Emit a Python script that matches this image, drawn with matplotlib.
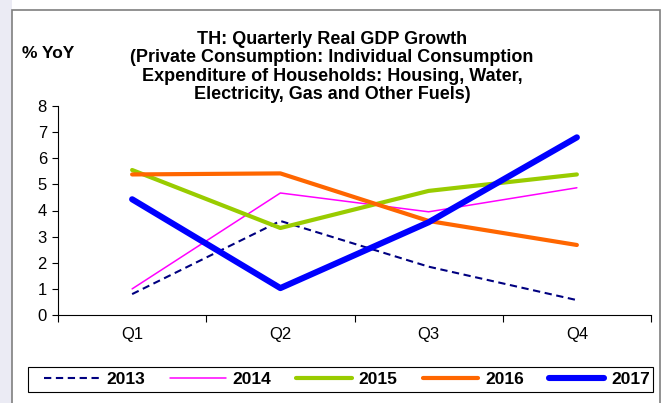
import matplotlib.pyplot as plt
from matplotlib.patches import Rectangle
from matplotlib.lines import Line2D

plt.rcParams['font.family'] = ['Liberation Sans', 'DejaVu Sans']

quarters = ["Q1", "Q2", "Q3", "Q4"]
years = ["2013", "2014", "2015", "2016", "2017"]
growth_2013 = [0.80, 3.60, 1.85, 0.57]
growth_2014 = [1.00, 4.67, 3.95, 4.87]
growth_2015 = [5.55, 3.33, 4.75, 5.38]
growth_2016 = [5.38, 5.42, 3.60, 2.68]
growth_2017 = [4.43, 1.03, 3.55, 6.80]

series = [growth_2013, growth_2014, growth_2015, growth_2016, growth_2017]
colors = ["#000080", "#ff00ff", "#99cc00", "#ff6600", "#0000ff"]
widths = [1.5, 1.1, 3.0, 3.0, 4.4]
styles = [(0, (3.5, 2.2)), "-", "-", "-", "-"]

W, H = 668, 403
fig = plt.figure(figsize=(W / 100, H / 100), dpi=100)
fig.patch.set_facecolor("white")

# background strip and chart frame
fig.patches.append(Rectangle((0, 0), 12 / W, 1, transform=fig.transFigure,
                             facecolor="#ebebf4", edgecolor="none", zorder=-2))
fig.patches.append(Rectangle((12 / W, -0.05), 648 / W, 1.05 - 10 / H,
                             transform=fig.transFigure, facecolor="white",
                             edgecolor="#7f7f7f", linewidth=1.2, zorder=-1))
# legend box
fig.patches.append(Rectangle((28 / W, 11 / H), 625 / W, 25 / H,
                             transform=fig.transFigure, facecolor="white",
                             edgecolor="black", linewidth=0.8, zorder=1))

ax = fig.add_axes([58 / W, 88 / H, 593 / W, 209 / H])
ax.set_zorder(2)
ax.set_facecolor("none")

x = list(range(len(quarters)))
for vals, c, lw, ls in zip(series, colors, widths, styles):
    ax.plot(x, vals, color=c, linewidth=lw, linestyle=ls,
            solid_capstyle="round", dash_capstyle="butt")

ax.set_xlim(-0.5, 3.5)
ax.set_ylim(0, 8)
ax.set_yticks(range(0, 9))
ax.set_xticks([-0.5, 0.5, 1.5, 2.5, 3.5])
ax.set_xticklabels([])
ax.set_xticks(x, minor=True)
ax.set_xticklabels(quarters, minor=True)
ax.tick_params(axis="x", which="minor", length=0, pad=9, labelsize=12)
ax.tick_params(axis="x", which="major", length=5, direction="out", width=0.8)
ax.tick_params(axis="y", length=4, direction="out", width=0.8, labelsize=12, pad=4)
for s in ["top", "right"]:
    ax.spines[s].set_visible(False)
for s in ["left", "bottom"]:
    ax.spines[s].set_linewidth(0.8)

fig.text(332 / W, 1 - 31 / H,
         "TH: Quarterly Real GDP Growth\n"
         "(Private Consumption: Individual Consumption\n"
         "Expenditure of Households: Housing, Water,\n"
         "Electricity, Gas and Other Fuels)",
         ha="center", va="top", fontsize=13, fontweight="bold", linespacing=1.1)
fig.text(22 / W, 1 - 53 / H, "% YoY", ha="left", va="center",
         fontsize=12.5, fontweight="bold")

handles = [Line2D([], [], color=c, linewidth=lw, linestyle=ls, solid_capstyle="round")
           for c, lw, ls in zip(colors, widths, styles)]
leg = fig.legend(handles, years, loc="center left", ncol=5, mode="expand",
                 bbox_to_anchor=(44 / W, 11 / H, 606 / W, 25 / H),
                 borderaxespad=0, frameon=False, borderpad=0,
                 handlelength=3.2, handletextpad=0.4, columnspacing=0.8,
                 prop={"weight": "bold", "size": 12.5})
leg.set_zorder(3)

fig.savefig("out.png", dpi=100)
